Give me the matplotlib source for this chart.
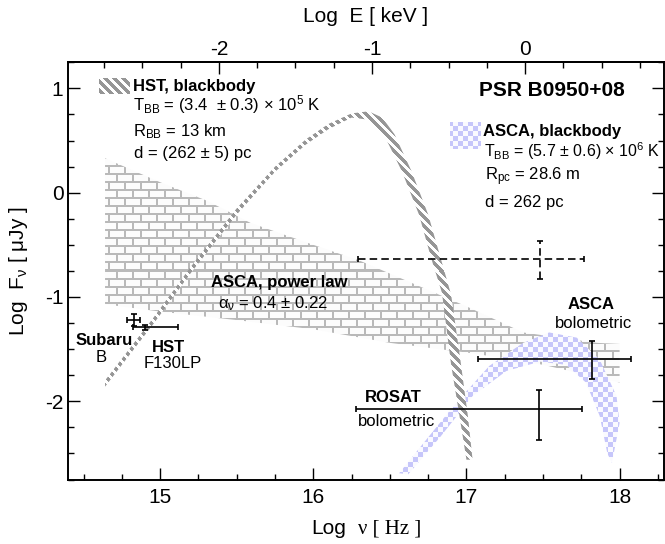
import numpy as np
import matplotlib.pyplot as plt
from matplotlib.patches import Polygon
from matplotlib.ticker import MultipleLocator, FixedLocator, FormatStrFormatter

plt.rcParams['font.family'] = ['Liberation Sans', 'DejaVu Sans']
plt.rcParams['mathtext.fontset'] = 'custom'
plt.rcParams['mathtext.rm'] = 'Liberation Sans'
plt.rcParams['mathtext.it'] = 'Liberation Sans:italic'
plt.rcParams['mathtext.bf'] = 'Liberation Sans:bold'
plt.rcParams['axes.unicode_minus'] = False

# HST blackbody band: outer edge (left -> right), inner edge (right -> left)
hst_out_x = [14.64, 14.95, 15.2, 15.5, 15.75, 15.95, 16.1, 16.25, 16.36, 16.45,
             16.53, 16.64, 16.75, 16.83, 16.90, 16.96, 17.01, 17.04]
hst_out_y = [-1.80, -1.21, -0.71, -0.15, 0.25, 0.51, 0.66, 0.76, 0.78, 0.72,
             0.56, 0.21, -0.21, -0.62, -0.98, -1.60, -2.15, -2.56]
hst_in_x = [17.00, 16.95, 16.90, 16.84, 16.77, 16.69, 16.58, 16.47, 16.36, 16.25,
            16.1, 15.95, 15.75, 15.5, 15.2, 14.95, 14.64]
hst_in_y = [-2.56, -2.10, -1.65, -0.96, -0.63, -0.21, 0.20, 0.53, 0.70, 0.72,
            0.61, 0.46, 0.20, -0.21, -0.77, -1.27, -1.86]

# ASCA power law band (upper edge left -> right, lower edge right -> left)
pl_up_x = [14.64, 15.0, 15.31, 15.59, 16.0, 16.3, 16.65, 17.0, 17.37, 17.85, 18.0]
pl_up_y = [0.33, 0.10, -0.08, -0.29, -0.50, -0.65, -0.87, -1.09, -1.34, -1.44, -1.45]
pl_lo_x = [18.0, 17.5, 17.04, 16.5, 16.0, 15.49, 15.0, 14.64]
pl_lo_y = [-1.82, -1.65, -1.54, -1.44, -1.31, -1.22, -1.14, -1.07]

# ASCA blackbody band
bb_up_x = [16.56, 16.72, 16.93, 17.15, 17.37, 17.54, 17.72, 17.87, 17.98, 18.0, 17.95]
bb_up_y = [-2.69, -2.40, -2.02, -1.66, -1.44, -1.34, -1.39, -1.60, -1.95, -2.21, -2.59]
bb_lo_x = [17.92, 17.87, 17.78, 17.65, 17.48, 17.26, 17.04, 16.83, 16.62]
bb_lo_y = [-2.50, -2.14, -1.82, -1.65, -1.62, -1.71, -1.95, -2.34, -2.70]

# measurements: Subaru B, HST F130LP, ASCA PL (dashed), ROSAT bol, ASCA bol
pt_x = [14.829, 14.902, 17.48, 17.472, 17.818]
pt_xlo = [14.783, 14.822, 16.29, 16.28, 17.075]
pt_xhi = [14.866, 15.116, 17.77, 17.755, 18.075]
pt_y = [-1.225, -1.29, -0.633, -2.07, -1.593]
pt_ylo = [-1.28, -1.32, -0.825, -2.368, -1.785]
pt_yhi = [-1.168, -1.264, -0.467, -1.888, -1.424]
pt_dashed = [False, False, True, False, False]

E_OFFSET = 17.383  # log(keV -> Hz)
XLIM = (14.4, 18.29)
YLIM = (-2.75, 1.25)

fig = plt.figure(figsize=(6.65, 5.44), dpi=100)
ax = fig.add_axes([68.3 / 665, 1 - 479.5 / 544, 595.7 / 665, 417.2 / 544])

# pixel textures
H, W = 417, 596
ii, jj = np.mgrid[0:H, 0:W]


def texture(mask, c1, c2):
    img = np.empty((H, W, 3))
    img[:] = np.array(c2) / 255.0
    img[mask] = np.array(c1) / 255.0
    return img


bricks = texture(((ii % 8) < 2) | (((jj + 8 * ((ii // 8) % 2)) % 16) < 2),
                 (185, 185, 185), (252, 252, 252))
checks = texture(((ii // 5 + jj // 5) % 2) == 0, (198, 198, 250), (250, 250, 255))
stripes = texture(((jj - ii) % 9) < 4.5, (150, 150, 150), (255, 255, 255))


def fill_texture(img, verts, z):
    poly = Polygon(verts, closed=True, fc='none', ec='none')
    ax.add_patch(poly)
    im = ax.imshow(img, extent=(*XLIM, *YLIM), origin='upper', aspect='auto',
                   interpolation='nearest', zorder=z)
    im.set_clip_path(poly)


def rect(x0, y0, x1, y1):
    return [(x0, y0), (x1, y0), (x1, y1), (x0, y1)]


fill_texture(bricks, list(zip(pl_up_x + pl_lo_x, pl_up_y + pl_lo_y)), 1)
fill_texture(checks, list(zip(bb_up_x + bb_lo_x, bb_up_y + bb_lo_y)), 2)
fill_texture(stripes, list(zip(hst_out_x + hst_in_x, hst_out_y + hst_in_y)), 3)
# legend swatches
fill_texture(stripes, rect(14.602, 0.944, 14.802, 1.104), 3)
fill_texture(checks, rect(16.894, 0.415, 17.097, 0.678), 3)

for i in range(len(pt_x)):
    eb = ax.errorbar(pt_x[i], pt_y[i],
                     xerr=[[pt_x[i] - pt_xlo[i]], [pt_xhi[i] - pt_x[i]]],
                     yerr=[[pt_y[i] - pt_ylo[i]], [pt_yhi[i] - pt_y[i]]],
                     fmt='none', ecolor='k', elinewidth=1.2, capsize=2.2,
                     capthick=1.2, zorder=5)
    if pt_dashed[i]:
        for lc in eb[2]:
            lc.set_linestyle((0, (4.5, 2.5)))

# annotations
fs = 12
ax.text(14.82, 0.975, 'HST, blackbody', fontsize=fs, fontweight='bold')
ax.text(14.82, 0.79, 'T$_\\mathrm{BB}$ = (3.4  ± 0.3) × 10$^\\mathrm{5}$ K', fontsize=fs)
ax.text(14.82, 0.545, 'R$_\\mathrm{BB}$ = 13 km', fontsize=fs)
ax.text(14.83, 0.33, 'd = (262 ± 5) pc', fontsize=fs)

ax.text(17.08, 0.93, 'PSR B0950+08', fontsize=15, fontweight='bold')
ax.text(17.105, 0.543, 'ASCA, blackbody', fontsize=fs, fontweight='bold')
ax.text(17.112, 0.345, 'T$_\\mathrm{BB}$ = (5.7 ± 0.6) × 10$^\\mathrm{6}$ K', fontsize=11.5)
ax.text(17.118, 0.118, 'R$_\\mathrm{pc}$ = 28.6 m', fontsize=fs)
ax.text(17.118, -0.134, 'd = 262 pc', fontsize=fs)

ax.text(15.333, -0.902, 'ASCA, power law', fontsize=fs, fontweight='bold', zorder=6)
ax.text(15.376, -1.104, 'α$_\\mathrm{ν}$ = 0.4 ± 0.22', fontsize=fs, zorder=6)

ax.text(14.446, -1.465, 'Subaru', fontsize=fs, fontweight='bold')
ax.text(14.613, -1.626, 'B', fontsize=fs, ha='center')
ax.text(15.057, -1.526, 'HST', fontsize=fs, fontweight='bold', ha='center')
ax.text(15.08, -1.683, 'F130LP', fontsize=fs, ha='center')

ax.text(17.816, -1.12, 'ASCA', fontsize=fs, fontweight='bold', ha='center')
ax.text(17.832, -1.296, 'bolometric', fontsize=fs, ha='center')
ax.text(16.335, -2.01, 'ROSAT', fontsize=fs, fontweight='bold')
ax.text(16.29, -2.233, 'bolometric', fontsize=fs)

ax.set_xlim(*XLIM)
ax.set_ylim(*YLIM)

# axes styling
for sp in ax.spines.values():
    sp.set_linewidth(1.4)
ax.xaxis.set_major_locator(FixedLocator([15, 16, 17, 18]))
ax.xaxis.set_minor_locator(MultipleLocator(0.25))
ax.yaxis.set_major_locator(FixedLocator([-2, -1, 0, 1]))
ax.yaxis.set_minor_locator(MultipleLocator(0.25))
ax.xaxis.set_major_formatter(FormatStrFormatter('%d'))
ax.yaxis.set_major_formatter(FormatStrFormatter('%d'))
ax.tick_params(which='both', direction='in', top=False, right=True, width=1.0,
               labelsize=15)
ax.tick_params(which='major', length=8.4)
ax.tick_params(which='minor', length=4.3)
ax.tick_params(axis='x', pad=6)
ax.tick_params(axis='y', pad=3.5)

secax = ax.secondary_xaxis('top', functions=(lambda x: x - E_OFFSET,
                                             lambda e: e + E_OFFSET))
secax.xaxis.set_major_locator(FixedLocator([-2, -1, 0]))
secax.xaxis.set_minor_locator(MultipleLocator(0.25))
secax.xaxis.set_major_formatter(FormatStrFormatter('%d'))
secax.tick_params(which='both', direction='in', width=1.0, labelsize=15, pad=2.5)
secax.tick_params(which='major', length=8.4)
secax.tick_params(which='minor', length=4.3)
secax.spines['top'].set_linewidth(1.4)
fig.text(366 / 665, 1 - 16 / 544, 'Log  E [ keV ]', fontsize=15,
         ha='center', va='center')

ax.set_ylabel('Log  F$_\\mathrm{ν}$ [ μJy ]', fontsize=15)
ax.yaxis.set_label_coords(-0.064, 0.5)

ax.text(0.4086, -0.1306, 'Log', transform=ax.transAxes, fontsize=15, va='baseline')
ax.text(0.4863, -0.1306, 'ν [ Hz ]', transform=ax.transAxes, fontsize=15,
        va='baseline', family=['Liberation Serif', 'DejaVu Serif'])

fig.savefig('out.png', dpi=100)
